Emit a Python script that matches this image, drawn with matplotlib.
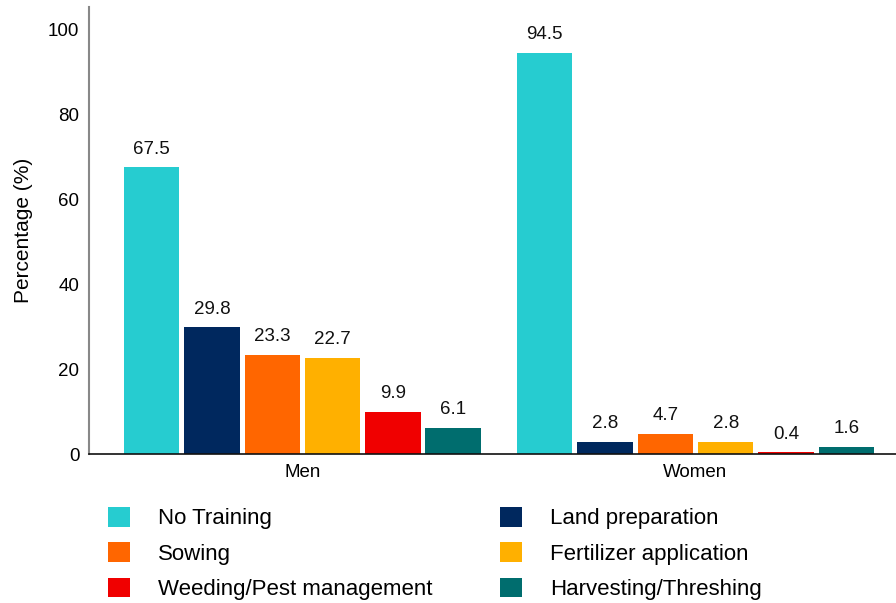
import matplotlib
matplotlib.use("Agg")
import matplotlib.pyplot as plt
import numpy as np

plt.rcParams['font.family'] = ['Liberation Sans', 'DejaVu Sans']

groups = ["Men", "Women"]
categories = ["No Training", "Land preparation", "Sowing", "Fertilizer application",
              "Weeding/Pest management", "Harvesting/Threshing"]
values = {
    "No Training": [67.5, 94.5],
    "Land preparation": [29.8, 2.8],
    "Sowing": [23.3, 4.7],
    "Fertilizer application": [22.7, 2.8],
    "Weeding/Pest management": [9.9, 0.4],
    "Harvesting/Threshing": [6.1, 1.6],
}
colors = ["#26CCD0", "#00285E", "#FF6600", "#FFB000", "#F00000", "#006D6E"]

fig = plt.figure(figsize=(8.96, 6.03), dpi=100)
ax = fig.add_axes([0.0993, 0.247, 0.9007, 0.741])

x = np.arange(len(groups))
pitch = 0.1534
width = 0.141
n = len(categories)
for i, (cat, col) in enumerate(zip(categories, colors)):
    pos = x + (i - (n - 1) / 2) * pitch
    bars = ax.bar(pos, values[cat], width=width, color=col, label=cat, zorder=2)
    for b, v in zip(bars, values[cat]):
        ax.text(b.get_x() + b.get_width() / 2, v + 2.3, f"{v:.1f}",
                ha="center", va="bottom", fontsize=13.5, color="#111111")

ax.set_xlim(-0.543, 1.51)
ax.set_ylim(0, 105.2)
ax.set_xticks(x)
ax.set_xticklabels(groups, fontsize=13.5)
ax.set_yticks([0, 20, 40, 60, 80, 100])
ax.tick_params(axis='y', length=0, labelsize=13.5, pad=7)
ax.tick_params(axis='x', length=0, pad=7)
ax.set_ylabel("Percentage (%)", fontsize=15, labelpad=11)
for s in ["top", "right"]:
    ax.spines[s].set_visible(False)
ax.spines["left"].set_color("#888888")
ax.spines["left"].set_linewidth(1.5)
ax.spines["bottom"].set_color("#111111")
ax.spines["bottom"].set_linewidth(1.2)

handles, labels = ax.get_legend_handles_labels()
order = [0, 2, 4, 1, 3, 5]
leg = fig.legend([handles[k] for k in order], [labels[k] for k in order],
                 ncol=2, loc="upper left", bbox_to_anchor=(0.1205, 0.1597),
                 frameon=False, fontsize=16, handlelength=1.0, handleheight=1.0,
                 handletextpad=1.26, columnspacing=3.03, labelspacing=0.58,
                 borderpad=0, borderaxespad=0)

fig.savefig("out.png", dpi=100)
